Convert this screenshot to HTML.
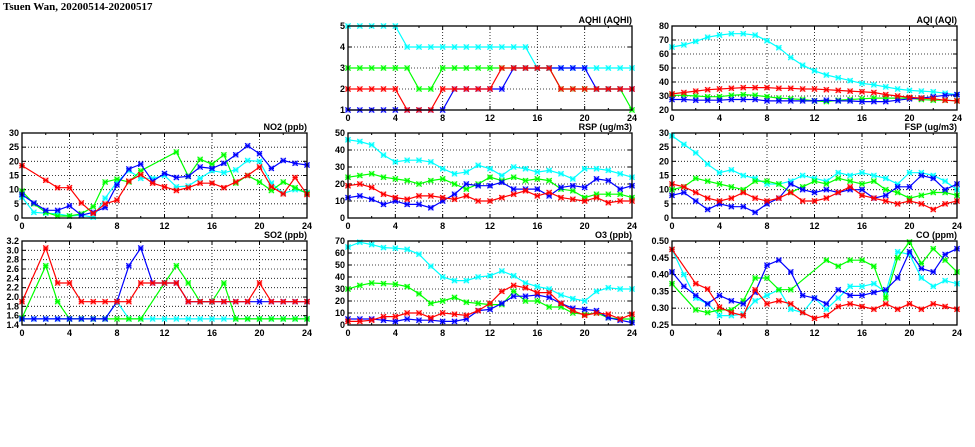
<!DOCTYPE html>
<html><head><meta charset="utf-8">
<style>
html,body{margin:0;padding:0;background:#fff;}
svg{display:block;}
text{font-family:"Liberation Sans",sans-serif;font-weight:bold;font-size:9px;fill:#000;}
</style></head>
<body>
<svg id="s" width="975" height="447" xmlns="http://www.w3.org/2000/svg">
<text x="3" y="10" style="font-family:'Liberation Serif',serif;font-size:11px;font-weight:bold">Tsuen Wan, 20200514-20200517</text>
</svg>
<script>
var N=null;
var panels=[
 {t:"AQHI (AQHI)",x0:348,x1:632,y0:26,y1:110,min:1,max:5,ticks:[1,2,3,4,5],fmt:0,
  s:{c:[5,5,5,5,5,4,4,4,4,4,4,4,4,4,4,4,3,3,3,3,3,3,3,3,3],
     g:[3,3,3,3,3,3,2,2,3,3,3,3,3,3,3,3,3,3,2,2,2,2,2,2,1],
     b:[1,1,1,1,1,1,1,1,1,2,2,2,2,2,3,3,3,3,3,3,3,2,2,2,2],
     r:[2,2,2,2,2,1,1,1,2,2,2,2,2,3,3,3,3,3,2,2,2,2,2,2,2]}},
 {t:"AQI (AQI)",x0:672,x1:957,y0:26,y1:110,min:20,max:80,ticks:[20,30,40,50,60,70,80],fmt:0,
  s:{c:[65,66.5,69,72,73.5,74.5,74.5,73.5,69.5,64.5,57.5,52,48,45,43,41,39,38,36.5,35,34,33.5,33,32,31],
     g:[30.5,30.5,30,29.5,29.5,30.5,31,30.5,29.5,28.5,28,27.5,26.5,26,27,27.5,28,28.5,28.5,28.5,28.5,27.5,27,27,26.5],
     b:[27.5,27.5,27,27,27,27.5,27.5,27.5,26.5,26.5,26.5,26.5,26.5,27,26.5,26.5,26,26,26,27,28,28.5,29.5,30.5,31],
     r:[31.5,32.5,33.5,34.5,35,35.5,36,36,36,35.5,35.5,35,35,34.5,34,33.5,33,32.5,31,30,29,28.5,28,27,26.5]}},
 {t:"NO2 (ppb)",x0:22,x1:307,y0:133,y1:218,min:0,max:30,ticks:[0,5,10,15,20,25,30],fmt:0,
  s:{c:[7.3,2,1.7,1.5,0.7,1,0.3,7,12.7,16.7,14,14,15,11,11.3,14,16.7,16,17,20.3,20,12.3,8.7,10,9],
     g:[9.5,5,2,0.7,0.7,1.5,4,12.7,13.7,12.7,16.7,N,N,23.3,14.7,20.7,19,22.3,12.3,15,12.7,9.7,12.7,10.7,8.7],
     b:[8.3,5.3,2.7,2.7,4.3,1,2,3.7,11.7,17.3,19,13,15.7,14.3,14.7,18,17.5,19.3,22.3,25.5,22.7,17.5,20.3,19.3,18.7],
     r:[18.5,N,13.3,10.7,10.7,5.3,1.6,5,6.3,13,15.3,12.3,11,9.7,10.7,12.3,12.3,10.7,12.7,15,18,11,8.5,14.3,8.3]}},
 {t:"RSP (ug/m3)",x0:348,x1:632,y0:133,y1:218,min:0,max:50,ticks:[0,10,20,30,40,50],fmt:0,
  s:{c:[46,45,43,37,33,34,34,33,29,26,27,31,29,25,30,29,27,28,26,23,29,29,28,26,24],
     g:[24,25,26,24,23,22,20,22,23,20,17,20,24,22,24,22,23,22,17,16,12,14,14,14,12],
     b:[12,13,11,8,10,8,8,6,10,14,20,19,19,21,17,17,17,13,18,19,18,23,22,17,19],
     r:[19,20,18,14,12,11,13,13,12,11,13,10,10,12,14,16,13,15,12,11,10,12,9,10,10]}},
 {t:"FSP (ug/m3)",x0:672,x1:957,y0:133,y1:218,min:0,max:30,ticks:[0,5,10,15,20,25,30],fmt:0,
  s:{c:[29,26,23,19,16,17,15,14,12,12,13,15,14,13,16,15,16,15,14,12,16,16,15,13,10],
     g:[10,11,14,13,12,11,10,13,13,12,9,11,13,12,14,13,12,13,10,9,7,8,9,9,8],
     b:[8,9,6,3,5,4,4,2,5,7,12,10,9,10,9,10,10,7,8,11,11,15,14,10,12],
     r:[12,11,9,7,6,7,9,7,6,7,9,6,6,7,9,11,8,7,6,5,6,5,3,5,6]}},
 {t:"SO2 (ppb)",x0:22,x1:307,y0:241,y1:325,min:1.4,max:3.2,ticks:[1.4,1.6,1.8,2.0,2.2,2.4,2.6,2.8,3.0,3.2],fmt:1,
  s:{c:[1.53,1.53,1.53,1.53,1.53,1.53,1.53,1.53,1.9,1.53,1.53,1.53,1.53,1.53,1.53,1.53,1.53,1.53,1.53,1.53,1.53,1.53,1.53,1.53,1.53],
     g:[1.55,N,2.67,1.9,1.53,1.53,1.53,1.53,1.53,1.53,1.53,N,2.3,2.67,2.3,1.9,1.9,2.3,1.53,1.53,1.53,1.53,1.53,1.53,1.53],
     b:[1.53,1.53,1.53,1.53,1.53,1.53,1.53,1.53,1.9,2.67,3.05,2.3,2.3,2.3,1.9,1.9,1.9,1.9,1.9,1.9,1.9,1.9,1.9,1.9,1.9],
     r:[1.9,N,3.05,2.3,2.3,1.9,1.9,1.9,1.9,1.9,2.3,2.3,2.3,2.3,1.9,1.9,1.9,1.9,1.9,1.9,2.3,1.9,1.9,1.9,1.9]}},
 {t:"O3 (ppb)",x0:348,x1:632,y0:241,y1:325,min:0,max:70,ticks:[0,10,20,30,40,50,60,70],fmt:0,
  s:{c:[65,69,67,64.5,64,63,59,49,40,37,37,40,41,45,41,35,32,30,25,22,20,28,31,30,30],
     g:[30,33,35,34.5,34,32,26,18,20,23,19,18,17,17,28,20,20,15,15,10,9,10,6,5,5],
     b:[5,5,5,4,3,5,4,4,3,3,5,12,13,18,24,24,25,23,18,14,13,12,6,4,2],
     r:[3,3,4,7,7,10,10,6,10,9,8,12,18,28,33,31,27,27,18,12,8,10,9,5,9]}},
 {t:"CO (ppm)",x0:672,x1:957,y0:241,y1:325,min:0.25,max:0.5,ticks:[0.25,0.30,0.35,0.40,0.45,0.50],fmt:2,
  s:{c:[.475,.400,.330,.313,.278,.278,.283,.322,.338,.355,.297,.287,.330,.297,.330,.365,.365,.373,.347,.468,.460,.390,.365,.382,.373],
     g:[.373,N,.295,.287,.295,.295,.322,.390,.390,.355,.355,N,N,.443,.425,.443,.443,.425,.330,.450,.497,.433,.477,.443,.408],
     b:[.408,.365,.338,.313,.338,.322,.313,.347,.428,.443,.408,.338,.330,.313,.355,.338,.338,.347,.355,.390,.468,.418,.408,.460,.477],
     r:[.475,N,.373,.357,.303,.287,.278,.355,.313,.322,.313,.287,.270,.278,.305,.313,.305,.297,.313,.297,.313,.297,.313,.305,.297]}}
];
var col={c:"#00ffff",g:"#00ff00",b:"#0000ff",r:"#ff0000"};
var h="";
panels.forEach(function(p){
 var X=function(i){return p.x0+(p.x1-p.x0)*i/24;};
 var Y=function(v){return p.y1-(p.y1-p.y0)*(v-p.min)/(p.max-p.min);};
 for(var i=4;i<24;i+=4)h+='<line x1="'+X(i)+'" y1="'+p.y0+'" x2="'+X(i)+'" y2="'+p.y1+'" stroke="#000" stroke-width="0.8" stroke-dasharray="1,2"/>';
 p.ticks.forEach(function(t,k){
  var y=Y(t);
  if(k>0&&k<p.ticks.length-1)h+='<line x1="'+p.x0+'" y1="'+y+'" x2="'+p.x1+'" y2="'+y+'" stroke="#000" stroke-width="0.8" stroke-dasharray="1,2"/>';
  h+='<line x1="'+p.x0+'" y1="'+y+'" x2="'+(p.x0+4)+'" y2="'+y+'" stroke="#000"/>';
  h+='<line x1="'+p.x1+'" y1="'+y+'" x2="'+(p.x1-4)+'" y2="'+y+'" stroke="#000"/>';
  h+='<text x="'+(p.x0-3)+'" y="'+(y+3)+'" text-anchor="end">'+t.toFixed(p.fmt)+'</text>';
 });
 for(var i=0;i<=24;i+=2){
  var L=(i%4==0)?4:2;
  h+='<line x1="'+X(i)+'" y1="'+p.y1+'" x2="'+X(i)+'" y2="'+(p.y1-L)+'" stroke="#000"/>';
  h+='<line x1="'+X(i)+'" y1="'+p.y0+'" x2="'+X(i)+'" y2="'+(p.y0+L)+'" stroke="#000"/>';
  if(i%4==0)h+='<text x="'+X(i)+'" y="'+(p.y1+11)+'" text-anchor="middle">'+i+'</text>';
 }
 h+='<text x="'+p.x1+'" y="'+(p.y0-3)+'" text-anchor="end">'+p.t+'</text>';
 ["c","g","b","r"].forEach(function(k){
  var d=p.s[k],pts=[];
  d.forEach(function(v,i){if(v!==null)pts.push([X(i),Y(v)]);});
  h+='<polyline fill="none" stroke="'+col[k]+'" stroke-width="1.2" points="'+pts.map(function(q){return q[0].toFixed(1)+','+q[1].toFixed(1);}).join(' ')+'"/>';
  pts.forEach(function(q){
   var x=q[0],y=q[1],a=2.6;
   h+='<rect x="'+(x-a)+'" y="'+(y-a)+'" width="'+(2*a)+'" height="'+(2*a)+'" fill="'+col[k]+'" opacity="0.35"/>';
   h+='<path d="M'+(x-a)+' '+(y-a)+'L'+(x+a)+' '+(y+a)+'M'+(x-a)+' '+(y+a)+'L'+(x+a)+' '+(y-a)+'M'+(x-a)+' '+y+'L'+(x+a)+' '+y+'" stroke="'+col[k]+'" stroke-width="1.1"/>';
  });
 });
 h+='<rect x="'+p.x0+'" y="'+p.y0+'" width="'+(p.x1-p.x0)+'" height="'+(p.y1-p.y0)+'" fill="none" stroke="#000" stroke-width="1.3"/>';
});
document.getElementById("s").insertAdjacentHTML("beforeend",h);
</script>
</body></html>
